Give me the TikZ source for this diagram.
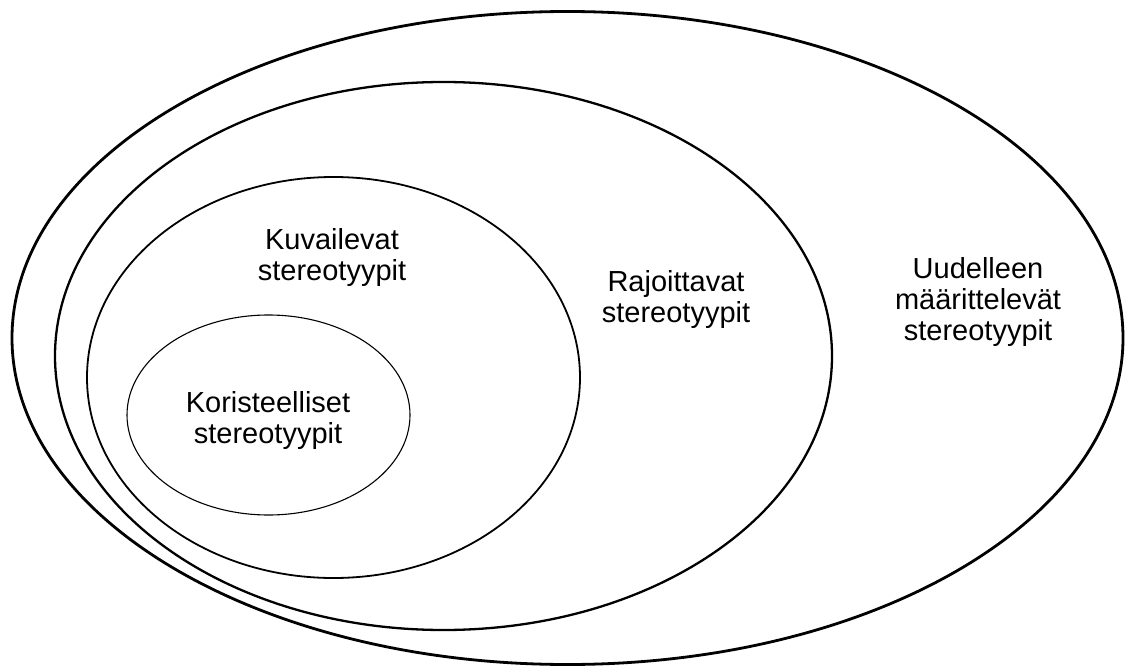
\documentclass[tikz,border=0pt]{standalone}
\usepackage{fontspec}
\setmainfont{Liberation Sans}
\begin{document}
\begin{tikzpicture}[x=1pt,y=-1pt,
  lbl/.style={align=center,font=\fontsize{29}{31}\selectfont,inner sep=0pt}]
\useasboundingbox[fill=white] (0,0) rectangle (1127,666);
\draw[line width=2.8pt] (567.5,338) ellipse [x radius=555.5, y radius=326.5];
\draw[line width=2.3pt] (443.5,356) ellipse [x radius=388.5, y radius=274];
\draw[line width=1.8pt] (333.5,377.5) ellipse [x radius=246.5, y radius=200.5];
\draw[line width=1.1pt] (268.5,415) ellipse [x radius=141.5, y radius=100];
\node[lbl] (kuv) at (332,258) {Kuvailevat\\stereotyypit};
\node[lbl] (raj) at (676,300) {Rajoittavat\\stereotyypit};
\node[lbl] (uud) at (978,302) {Uudelleen\\määrittelevät\\stereotyypit};
\node[lbl] (kor) at (268,420) {Koristeelliset\\stereotyypit};
\end{tikzpicture}
\end{document}
